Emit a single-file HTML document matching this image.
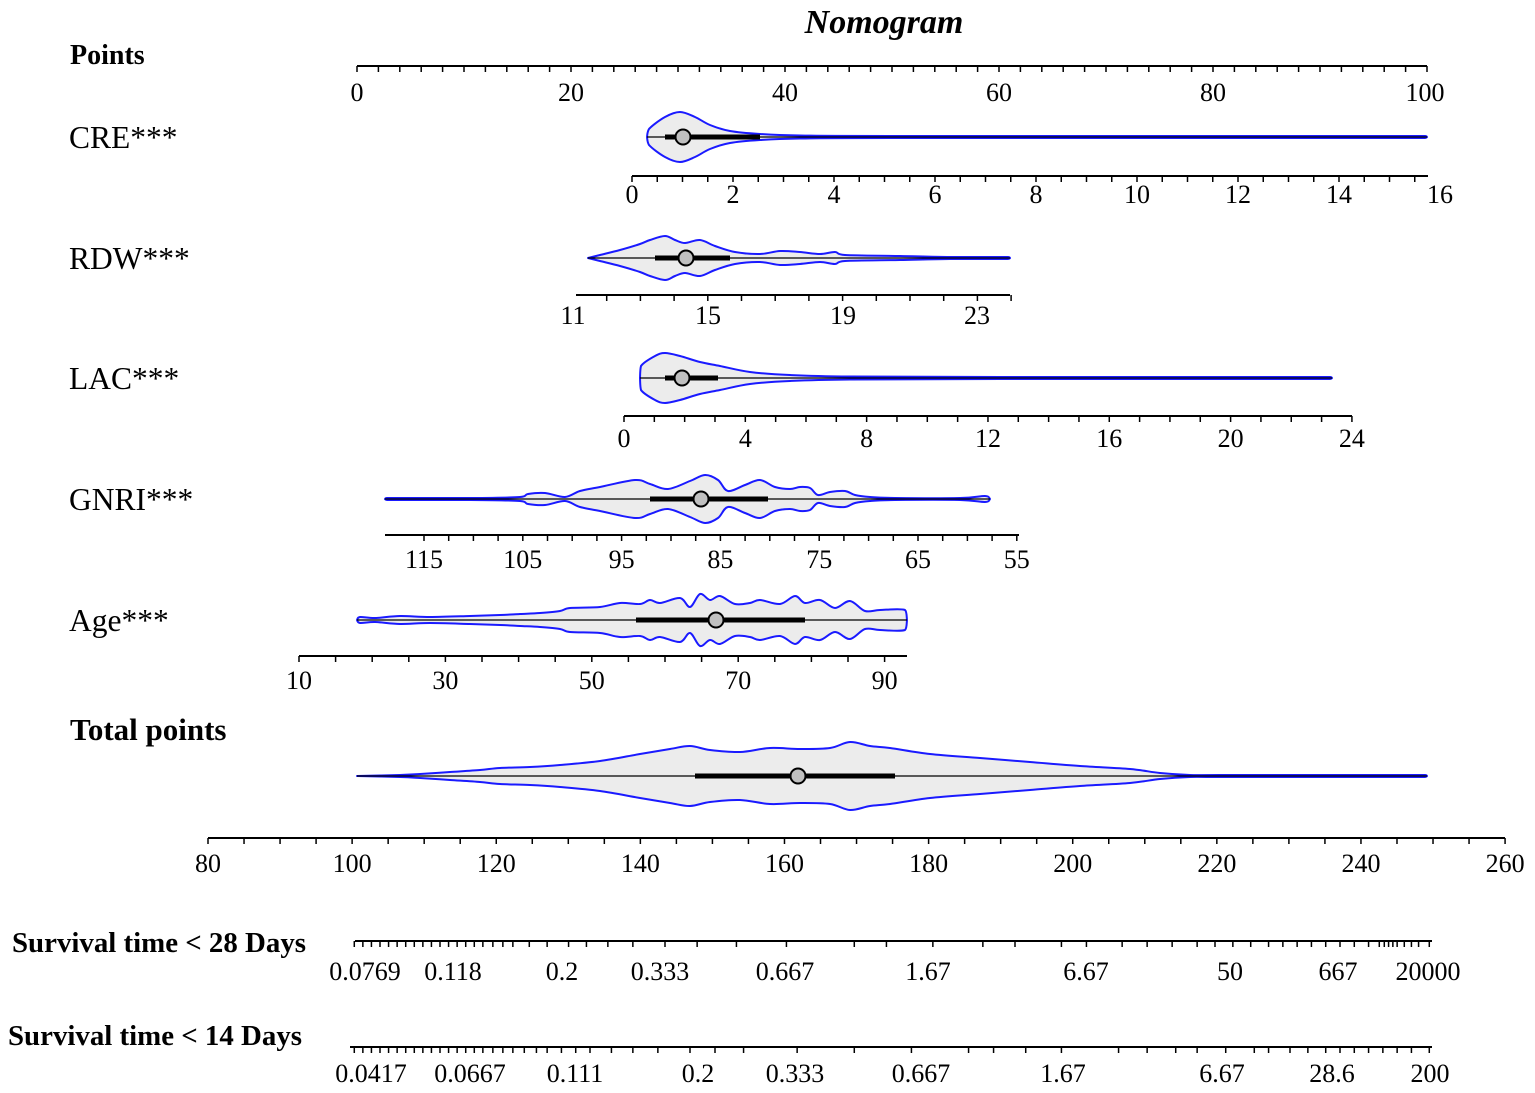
<!DOCTYPE html>
<html><head><meta charset="utf-8"><style>
body{margin:0;background:#fff;}
svg{display:block;}
text{font-family:"Liberation Serif",serif;fill:#000;}
</style></head><body>
<svg id="s" width="1535" height="1093" xmlns="http://www.w3.org/2000/svg">
<text x="884" y="33" font-size="34" font-weight="bold" font-style="italic" text-anchor="middle">Nomogram</text>
<text x="70" y="64" font-size="28" font-weight="bold">Points</text>
<text x="69" y="148" font-size="31.5">CRE***</text>
<text x="69" y="269" font-size="31.5">RDW***</text>
<text x="69" y="389" font-size="31.5">LAC***</text>
<text x="69" y="510" font-size="31.5">GNRI***</text>
<text x="69" y="631" font-size="31.5">Age***</text>
<text x="70" y="740" font-size="31" font-weight="bold">Total points</text>
<text x="12" y="952" font-size="28.5" font-weight="bold" textLength="294" lengthAdjust="spacingAndGlyphs">Survival time &lt; 28 Days</text>
<text x="8" y="1045" font-size="28.5" font-weight="bold" textLength="294" lengthAdjust="spacingAndGlyphs">Survival time &lt; 14 Days</text>
</svg>
<script>
const S=document.getElementById('s'),NS='http://www.w3.org/2000/svg';
function el(t,a,txt){const e=document.createElementNS(NS,t);for(const k in a)e.setAttribute(k,a[k]);if(txt!==undefined)e.textContent=txt;S.appendChild(e);return e;}
function axis(y,x0,x1,ticks,labels,ly,fs){
 el('line',{x1:x0,y1:y,x2:x1,y2:y,stroke:'#000','stroke-width':2});
 ticks.forEach(t=>el('line',{x1:t[0],y1:y,x2:t[0],y2:y+(t[1]||6),stroke:'#000','stroke-width':1.5}));
 labels.forEach(l=>el('text',{x:l[0],y:ly,'font-size':fs||26,'text-anchor':'middle'},l[1]));
}
function lin(a,b,step,pxA,pxPer){const r=[];for(let v=a;v<=b+1e-9;v+=step){r.push([pxA+(v-a)*pxPer,6]);}return r;}
axis(66,357,1427,lin(0,100,2,357,10.7),[[357,'0'],[571,'20'],[785,'40'],[999,'60'],[1213,'80'],[1425,'100']],101);
axis(176,632,1428,lin(0,15.5,0.5,632,50.5),[0,2,4,6,8,10,12,14,16].map(v=>[632+v*50.5,String(v)]),203);
axis(295,576,1010,lin(11,24,1,573,33.7).filter(t=>t[0]>=576),[[573,'11'],[708,'15'],[843,'19'],[977,'23']],324);
axis(416,624,1352,lin(0,24,1,624,30.33),[0,4,8,12,16,20,24].map(v=>[624+v*30.33,String(v)]),447);
(function(){const t=[];for(let v=117.5;v>=55;v-=2.5)t.push([424+(115-v)*9.88,6]);axis(535,385,1019,t.filter(a=>a[0]>=400),[115,105,95,85,75,65,55].map(v=>[424+(115-v)*9.88,String(v)]),568);})();
axis(656,299,907,lin(10,90,5,299,7.32),[10,30,50,70,90].map(v=>[299+(v-10)*7.32,String(v)]),689);
axis(838,208,1505,lin(80,260,5,208,7.206),[80,100,120,140,160,180,200,220,240,260].map(v=>[208+(v-80)*7.206,String(v)]),872);
const K=1.4;
(function(){const z=[20,32,44,56,68,80,92,104,116,128,140,152,164,176,188,200,214,228,242,265,290,320,345,375,410,455,500,555,625,720,765,830,900,945,1010,1045,1095,1130,1165,1200,1225,1250,1275,1300,1320,1340,1360,1380,1400,1420,1440,1455,1462,1468,1474,1480,1490,1500,1510,1525];
axis(941,355,1432,z.map(v=>[340+v/K,6]),[[365,'0.0769'],[453,'0.118'],[562,'0.2'],[660,'0.333'],[785,'0.667'],[928,'1.67'],[1086,'6.67'],[1230,'50'],[1338,'667'],[1428,'20000']],980);})();
(function(){const z=[20,32,44,56,68,80,92,104,116,128,140,152,164,176,188,200,214,228,242,258,275,290,310,330,350,380,410,445,490,525,565,640,720,800,880,915,960,1010,1090,1130,1170,1200,1240,1280,1300,1330,1355,1380,1400,1420,1440,1460,1480,1500,1525];
axis(1047,350,1432,z.map(v=>[340+v/K,6]),[[371,'0.0417'],[470,'0.0667'],[575,'0.111'],[698,'0.2'],[795,'0.333'],[921,'0.667'],[1063,'1.67'],[1222,'6.67'],[1332,'28.6'],[1430,'200']],1082);})();
function cl(v,a,b){const lo=Math.min(a,b),hi=Math.max(a,b);return Math.max(lo,Math.min(hi,v));}
function smooth(pts){let d='';for(let i=0;i<pts.length-1;i++){const p0=pts[Math.max(0,i-1)],p1=pts[i],p2=pts[i+1],p3=pts[Math.min(pts.length-1,i+2)];
 const c1=[cl(p1[0]+(p2[0]-p0[0])/6,p1[0],p2[0]),p1[1]+(p2[1]-p0[1])/6],c2=[cl(p2[0]-(p3[0]-p1[0])/6,p1[0],p2[0]),p2[1]-(p3[1]-p1[1])/6];
 d+=' C'+c1+' '+c2+' '+p2;}return d;}
function violin(y,prof,box,med){
 const up=prof.map(p=>[p[0],y-p[1]]);const dn=prof.slice().reverse().map(p=>[p[0],y+p[1]]);
 const d='M'+up[0]+smooth(up)+' L'+dn[0]+smooth(dn)+' Z';
 el('path',{d:d,fill:'#ececec',stroke:'#1a1aff','stroke-width':2,'stroke-linejoin':'round'});
 el('line',{x1:prof[0][0],y1:y,x2:prof[prof.length-1][0],y2:y,stroke:'#000','stroke-width':1.2});
 el('line',{x1:box[0],y1:y,x2:box[1],y2:y,stroke:'#000','stroke-width':5});
 el('circle',{cx:med,cy:y,r:7.5,fill:'#c0c0c0',stroke:'#000','stroke-width':2});
}
violin(137,[[647,0],[649,8],[665,20],[680,25],[695,20],[710,12],[730,6],[760,3],[800,1.5],[900,1],[1425,1],[1427,0]],[665,760],683);
violin(258,[[588,0],[600,3],[620,8],[640,14],[650,18],[665,22],[675,18],[685,15],[700,18],[715,12],[735,6],[760,4],[780,7],[800,6],[820,4],[835,6],[845,3],[900,2],[950,1],[1008,1],[1010,0]],[655,730],686);
violin(378,[[640,0],[641,12],[655,22],[665,25],[680,22],[700,16],[720,12],[750,6],[790,3],[850,1.5],[1000,1],[1330,1],[1332,0]],[665,718],682);
violin(499,[[385,0],[387,1],[470,1],[520,2],[528,5],[545,6],[565,2],[580,8],[600,12],[635,19],[650,15],[668,10],[690,18],[705,24],[718,19],[728,8],[745,14],[760,19],[775,12],[790,10],[800,12],[810,11],[818,4],[830,7],[845,8],[855,4],[870,2],[895,1],[960,1],[985,3],[990,0]],[650,768],701);
violin(620,[[357,0],[360,3],[375,2],[400,4],[430,3],[470,4],[500,5],[520,6],[540,7],[560,9],[570,12],[600,13],[620,17],[640,16],[650,20],[660,17],[680,22],[690,13],[700,26],[710,20],[720,24],[735,16],[750,17],[760,20],[780,16],[795,24],[805,17],[820,20],[835,12],[850,19],[865,9],[880,10],[905,10],[907,0]],[636,805],716);
violin(776,[[357,0],[400,1],[420,2],[450,4],[480,6],[500,8],[530,9],[560,11],[600,15],[640,22],[670,27],[690,30],[710,26],[740,24],[770,28],[800,27],[830,28],[850,34],[870,30],[890,28],[930,22],[980,18],[1030,14],[1080,10],[1130,7],[1160,3],[1190,1],[1220,1],[1425,1],[1427,0]],[695,895],798);
</script>
</body></html>
